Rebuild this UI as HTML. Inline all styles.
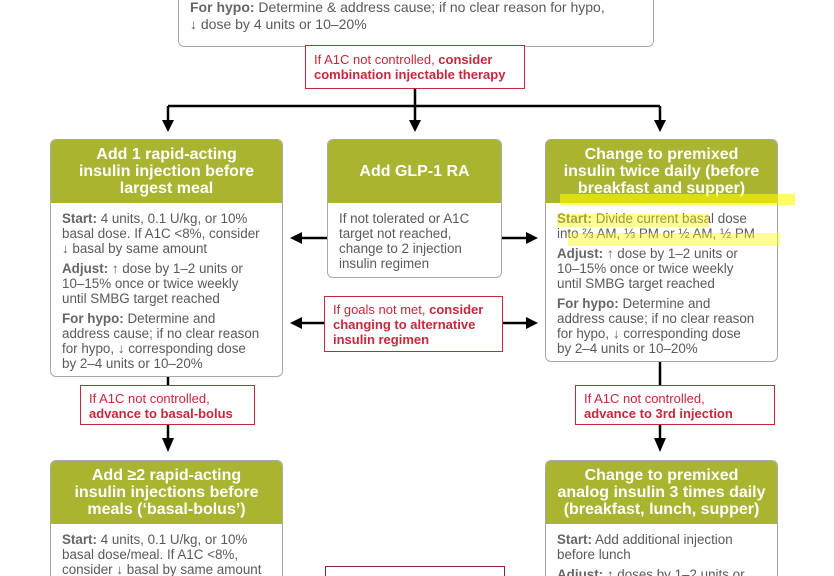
<!DOCTYPE html>
<html><head><meta charset="utf-8"><style>
html,body{margin:0;width:834px;height:576px;overflow:hidden;background:#fff;font-family:"Liberation Sans",sans-serif;position:relative}
.a{position:absolute;box-sizing:border-box}
.box{border:1.5px solid #a8a8a8;border-radius:6px;overflow:hidden;background:#fff}
.hd{background:#a9b430;color:#fff;font-weight:bold;text-align:center;font-size:16px;line-height:17px;display:flex;align-items:center;justify-content:center}
.bd{color:#5a5a5a;font-size:13.4px;line-height:15px;padding:8px 4px 0 11px;white-space:nowrap}
.bd p{margin:0 0 5px}
.bd b{color:#666}
.red{border:1.5px solid #c8283c;color:#c8283c;font-size:13px;line-height:15px;padding:5px 8px;background:#fff}
.red b{color:#c8283c}
.hl{position:absolute;background:rgba(255,250,0,0.75)}
</style></head><body>
<svg class="a" style="left:0;top:0" width="834" height="576">
<g stroke="#000" stroke-width="2.5" fill="none">
<line x1="415" y1="45" x2="415" y2="106"/>
<line x1="168" y1="106" x2="660" y2="106"/>
<line x1="168" y1="106" x2="168" y2="122"/>
<line x1="415" y1="106" x2="415" y2="122"/>
<line x1="660" y1="106" x2="660" y2="122"/>
<line x1="327" y1="238" x2="300" y2="238"/>
<line x1="502" y1="238" x2="528" y2="238"/>
<line x1="324" y1="323" x2="300" y2="323"/>
<line x1="503" y1="323" x2="528" y2="323"/>
<line x1="168" y1="377" x2="168" y2="440"/>
<line x1="660" y1="362" x2="660" y2="440"/>
</g>
<g fill="#000">
<polygon points="162,120 174,120 168,132"/>
<polygon points="409,120 421,120 415,132"/>
<polygon points="654,120 666,120 660,132"/>
<polygon points="302,232 302,244 290,238"/>
<polygon points="526,232 526,244 538,238"/>
<polygon points="302,317 302,329 290,323"/>
<polygon points="526,317 526,329 538,323"/>
<polygon points="162,438 174,438 168,452"/>
<polygon points="654,438 666,438 660,452"/>
</g>
</svg>
<div class="a box" style="left:178px;top:-30px;width:476px;height:77px">
<div class="bd" style="padding-top:28px;font-size:14px;padding-left:11px;line-height:17px"><b>For hypo:</b> Determine &amp; address cause; if no clear reason for hypo,<br>↓ dose by 4 units or 10–20%</div></div>
<div class="a red" style="left:305px;top:45px;width:220px;height:44px;padding-top:6px">If A1C not controlled, <b>consider combination injectable therapy</b></div>

<div class="a box" style="left:50px;top:139px;width:233px;height:238px">
<div class="hd" style="height:63px">Add 1 rapid-acting<br>insulin injection before<br>largest meal</div>
<div class="bd"><p><b>Start:</b> 4 units, 0.1 U/kg, or 10%<br>basal dose. If A1C &lt;8%, consider<br>↓ basal by same amount</p><p><b>Adjust:</b> ↑ dose by 1–2 units or<br>10–15% once or twice weekly<br>until SMBG target reached</p><p><b>For hypo:</b> Determine and<br>address cause; if no clear reason<br>for hypo, ↓ corresponding dose<br>by 2–4 units or 10–20%</p></div></div>

<div class="a box" style="left:327px;top:139px;width:175px;height:139px">
<div class="hd" style="height:63px">Add GLP-1 RA</div>
<div class="bd" style="padding-top:8px">If not tolerated or A1C<br>target not reached,<br>change to 2 injection<br>insulin regimen</div></div>

<div class="a box" style="left:545px;top:139px;width:233px;height:223px">
<div class="hd" style="height:63px">Change to premixed<br>insulin twice daily (before<br>breakfast and supper)</div>
<div class="bd"><p><b>Start:</b> Divide current basal dose<br>into ⅔ AM, ⅓ PM or ½ AM, ½ PM</p><p><b>Adjust:</b> ↑ dose by 1–2 units or<br>10–15% once or twice weekly<br>until SMBG target reached</p><p><b>For hypo:</b> Determine and<br>address cause; if no clear reason<br>for hypo, ↓ corresponding dose<br>by 2–4 units or 10–20%</p></div></div>
<div class="hl" style="left:560px;top:194px;width:235px;height:11px;opacity:.8"></div>
<div class="hl" style="left:557px;top:214px;width:152px;height:13px;opacity:.55"></div>
<div class="hl" style="left:568px;top:233px;width:212px;height:13px;opacity:.55"></div>

<div class="a red" style="left:324px;top:296px;width:179px;height:56px">If goals not met, <b>consider<br>changing to alternative<br>insulin regimen</b></div>
<div class="a red" style="left:80px;top:385px;width:175px;height:40px">If A1C not controlled,<br><b>advance to basal-bolus</b></div>
<div class="a red" style="left:575px;top:385px;width:200px;height:40px">If A1C not controlled,<br><b>advance to 3rd injection</b></div>

<div class="a box" style="left:50px;top:460px;width:233px;height:130px">
<div class="hd" style="height:63px">Add ≥2 rapid-acting<br>insulin injections before<br>meals (‘basal-bolus’)</div>
<div class="bd"><p><b>Start:</b> 4 units, 0.1 U/kg, or 10%<br>basal dose/meal. If A1C &lt;8%,<br>consider ↓ basal by same amount</p></div></div>
<div class="a box" style="left:545px;top:460px;width:233px;height:130px">
<div class="hd" style="height:63px">Change to premixed<br>analog insulin 3 times daily<br>(breakfast, lunch, supper)</div>
<div class="bd"><p><b>Start:</b> Add additional injection<br>before lunch</p><p><b>Adjust:</b> ↑ doses by 1–2 units or</p></div></div>
<div class="a red" style="left:325px;top:566px;width:180px;height:30px;border-color:#8a2030"></div>
</body></html>
